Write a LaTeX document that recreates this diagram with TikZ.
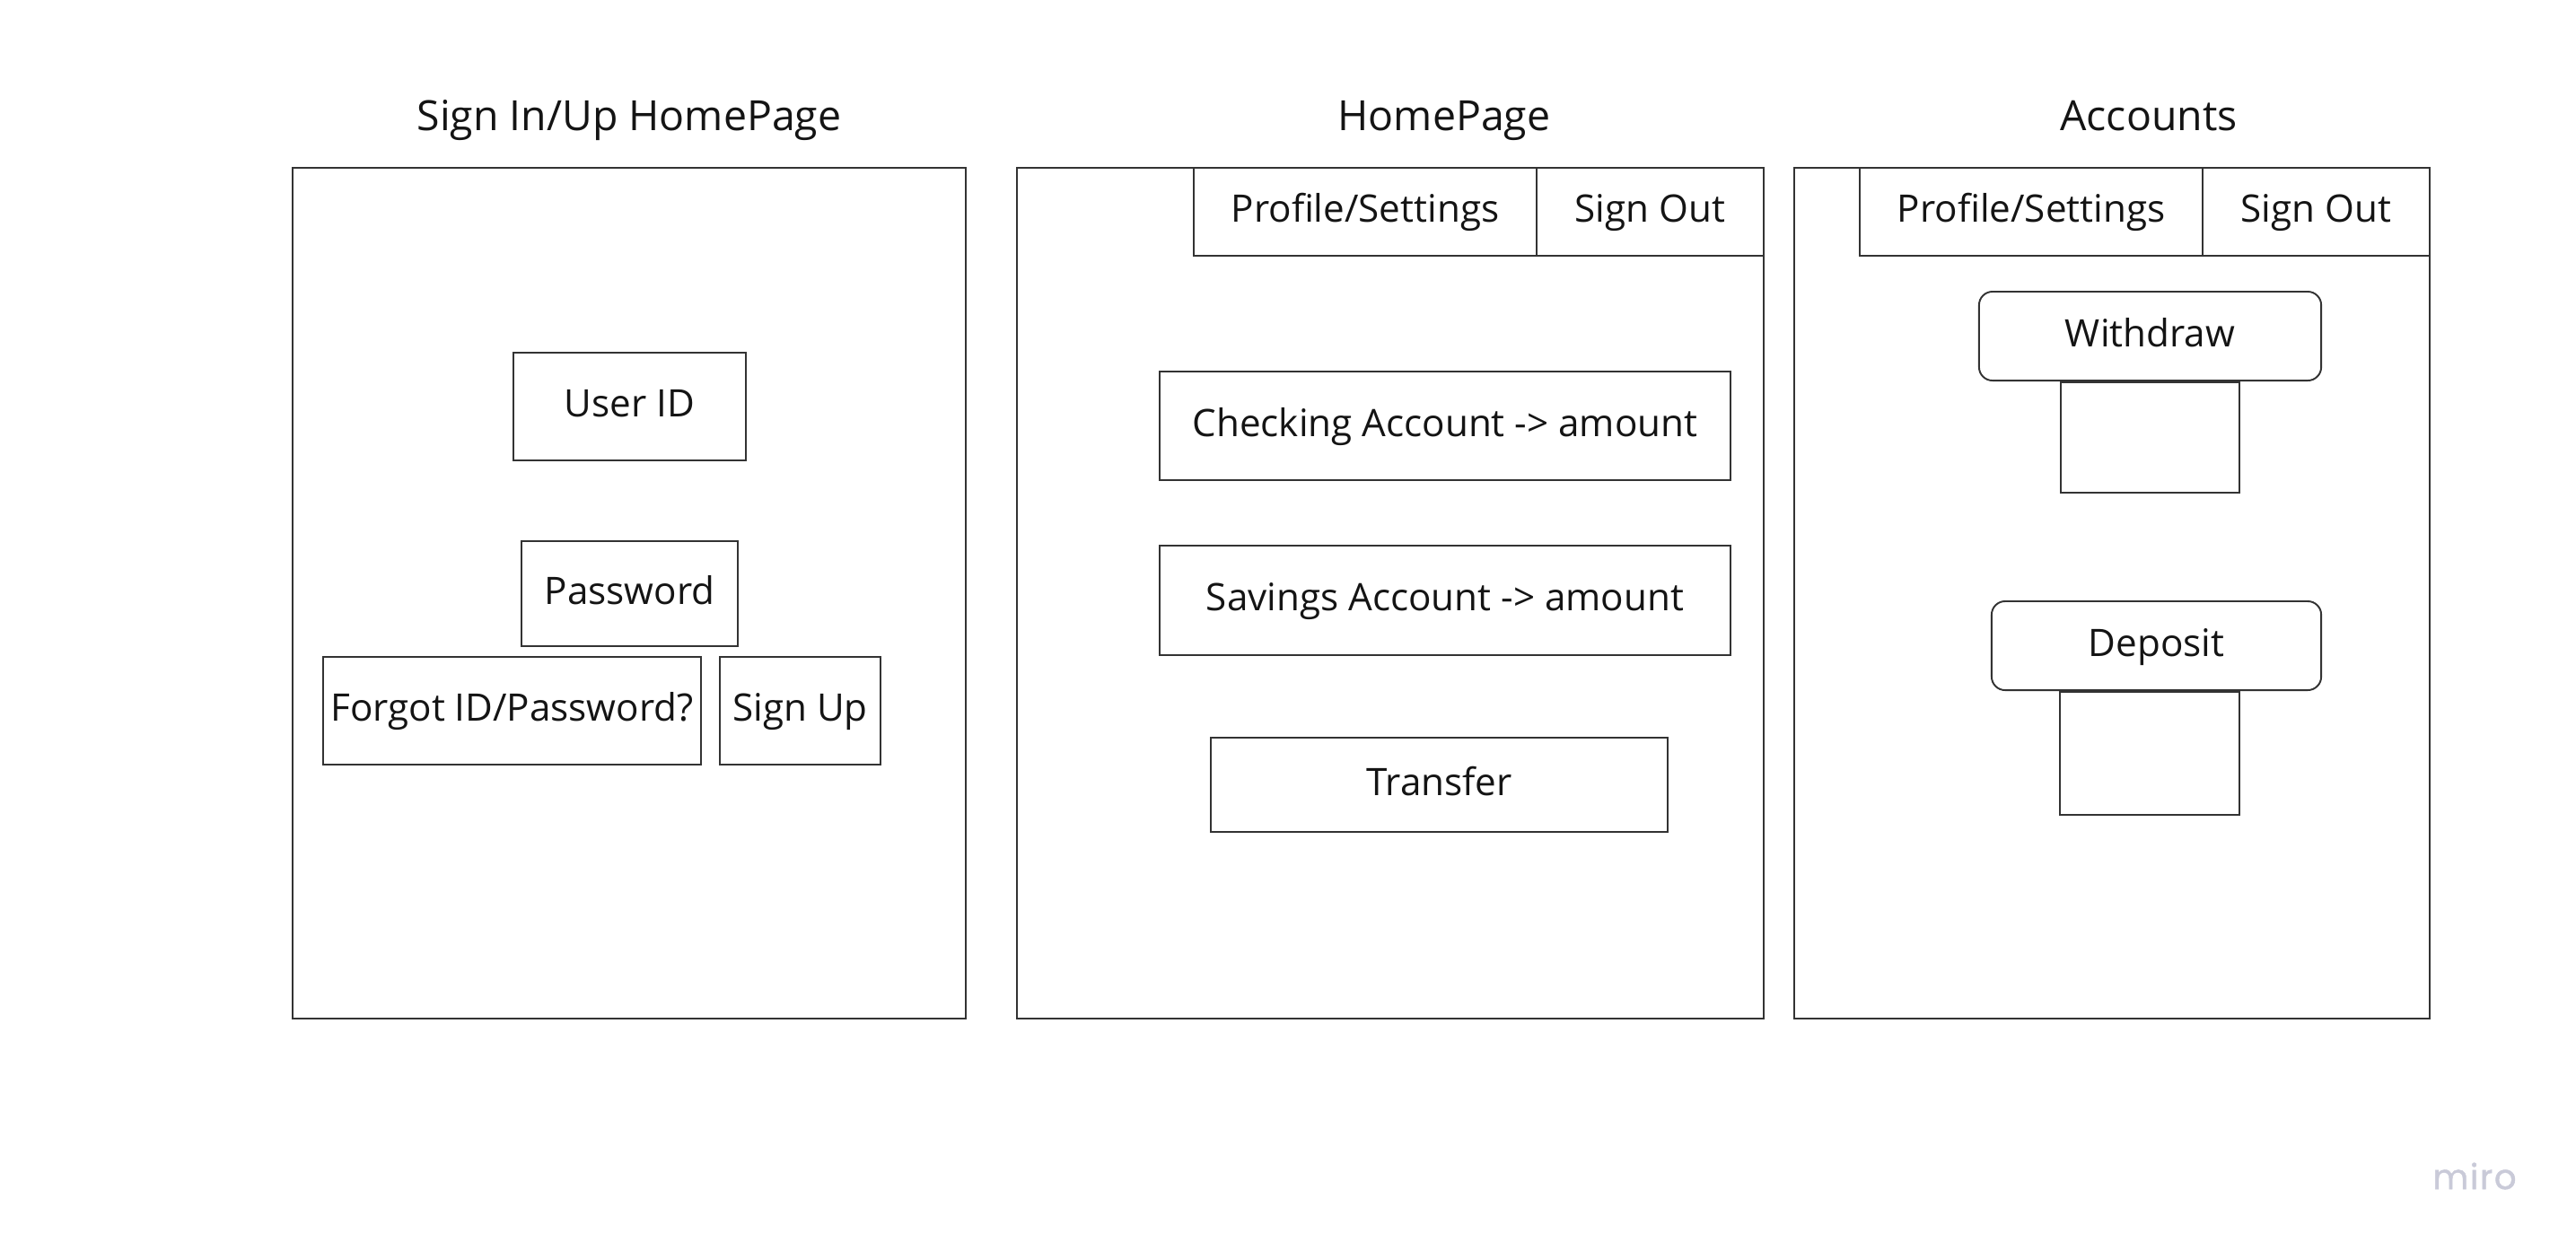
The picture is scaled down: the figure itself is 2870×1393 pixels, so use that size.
\documentclass[tikz,border=0pt]{standalone}
\usepackage{fontspec}
\setmainfont{Open Sans}
\newfontfamily\logofont[FakeBold=1.2, LetterSpace=4]{Poppins}
\definecolor{linec}{HTML}{333333}
\definecolor{txtc}{HTML}{141414}
\definecolor{logoc}{HTML}{C9CAD8}
\begin{document}
\begin{tikzpicture}[x=0.01cm, y=-0.01cm,
  panel/.style={draw=linec, line width=0.55pt, inner sep=0pt},
  box/.style={draw=linec, line width=0.55pt, inner sep=0pt, text=txtc,
    font=\fontsize{12}{14}\selectfont, text height=0.72em, text depth=0.05em},
  pill/.style={box, rounded corners=0.15cm},
  title/.style={text=txtc, inner sep=0pt, font=\fontsize{13.2}{16}\selectfont,
    text height=0.72em, text depth=0.24em},
  wh/.style 2 args={minimum width=#1cm, minimum height=#2cm}]
\useasboundingbox (0,0) rectangle (2870,1393);

% Sign in / sign up screen
\node[title] (t1) at (701,137) {Sign In/Up HomePage};
\node[panel, wh={7.50}{9.48}] (p1) at (701,661) {};
\node[box, wh={2.59}{1.20}] (uid) at (701.5,453) {User ID};
\node[box, wh={2.41}{1.17}] (pwd) at (701.5,661.5) {Password};
\node[box, wh={4.21}{1.20}] (forgot) at (570.5,792) {Forgot ID/Password?};
\node[box, wh={1.79}{1.20}] (signup) at (891.5,792) {Sign Up};

% Home screen
\node[title] (t2) at (1609,137) {HomePage};
\node[panel, wh={8.32}{9.48}] (p2) at (1549,661) {};
\node[box, wh={3.82}{0.98}] (prof2) at (1521,236) {Profile/Settings};
\node[box, wh={2.53}{0.98}] (out2) at (1838.5,236) {Sign Out};
\node[box, wh={6.36}{1.21}] (chk) at (1610,474.5) {Checking Account -> amount};
\node[box, wh={6.36}{1.22}] (sav) at (1610,669) {Savings Account -> amount};
\node[box, wh={5.09}{1.05}] (xfer) at (1603.5,874.5) {Transfer};

% Accounts screen
\node[title] (t3) at (2394,137) {Accounts};
\node[panel, wh={7.08}{9.48}] (p3) at (2353,661) {};
\node[box, wh={3.82}{0.98}] (prof3) at (2263,236) {Profile/Settings};
\node[box, wh={2.53}{0.98}] (out3) at (2580.5,236) {Sign Out};
\node[pill, wh={3.81}{0.99}] (wd) at (2395.5,374.5) {Withdraw};
\node[box, wh={1.99}{1.23}] (wdin) at (2395.5,487.5) {};
\node[pill, wh={3.67}{0.99}] (dep) at (2402.5,719.5) {Deposit};
\node[box, wh={2.00}{1.37}] (depin) at (2395,839.5) {};

% board watermark
\node[text=logoc, inner sep=0pt, anchor=base, font=\logofont\fontsize{11}{13}\selectfont] (logo) at (2757,1325) {miro};
\end{tikzpicture}
\end{document}
